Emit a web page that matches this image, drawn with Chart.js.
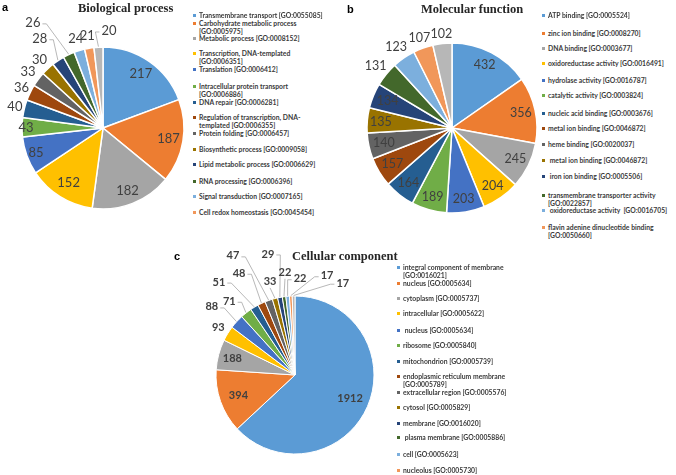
<!DOCTYPE html>
<html><head><meta charset="utf-8">
<script src="https://cdn.jsdelivr.net/npm/chart.js@4.4.0/dist/chart.umd.min.js"></script>
<style>
html,body{margin:0;padding:0;background:#fff;}
body{width:676px;height:475px;position:relative;overflow:hidden;font-family:Lato,sans-serif;}
canvas{position:absolute;}
.t{position:absolute;font-family:"Liberation Serif","Times New Roman",serif;font-weight:bold;font-size:12.5px;color:#262626;white-space:nowrap;line-height:14px;}
.p{position:absolute;font-family:"Liberation Sans",Arial,sans-serif;font-weight:bold;font-size:11px;color:#000;line-height:12px;}
.lg{position:absolute;font-family:Lato,sans-serif;line-height:8px;color:#3a3a3a;font-weight:700;white-space:pre-wrap;z-index:2;}
.lg i{position:absolute;width:2.8px;height:2.8px;left:-6px;top:2.8px;}
</style></head><body>
<canvas id="ca" width="190" height="240" style="left:0;top:0"></canvas>
<canvas id="cb" width="200" height="240" style="left:340px;top:0"></canvas>
<canvas id="cc" width="230" height="235" style="left:170px;top:240px"></canvas>
<div class="p" style="left:2px;top:1px">a</div>
<div class="p" style="left:347px;top:3px">b</div>
<div class="p" style="left:174px;top:250px">c</div>
<div class="t" style="left:78px;top:1px">Biological process</div>
<div class="t" style="left:421px;top:2px">Molecular function</div>
<div class="t" style="left:292px;top:249px">Cellular component</div>
<script>
// ---------- data ----------
const bioLabels = [
  "Transmembrane transport [GO:0055085]",
  "Carbohydrate metabolic process [GO:0005975]",
  "Metabolic process [GO:0008152]",
  "Transcription, DNA-templated [GO:0006351]",
  "Translation [GO:0006412]",
  "Intracellular protein transport [GO:0006886]",
  "DNA repair [GO:0006281]",
  "Regulation of transcription, DNA-templated [GO:0006355]",
  "Protein folding [GO:0006457]",
  "Biosynthetic process [GO:0009058]",
  "Lipid metabolic process [GO:0006629]",
  "RNA processing [GO:0006396]",
  "Signal transduction [GO:0007165]",
  "Cell redox homeostasis [GO:0045454]"
];
const bioValues = [217,187,182,152,85,43,40,36,33,30,28,26,24,21,20];

const molLabels = [
  "ATP binding [GO:0005524]",
  "zinc ion binding [GO:0008270]",
  "DNA binding [GO:0003677]",
  "oxidoreductase activity [GO:0016491]",
  "hydrolase activity [GO:0016787]",
  "catalytic activity [GO:0003824]",
  "nucleic acid binding [GO:0003676]",
  "metal ion binding [GO:0046872]",
  "heme binding [GO:0020037]",
  " metal ion binding [GO:0046872]",
  " iron ion binding [GO:0005506]",
  "transmembrane transporter activity [GO:0022857]",
  " oxidoreductase activity  [GO:0016705]",
  "flavin adenine dinucleotide binding [GO:0050660]"
];
const molValues = [432,356,245,204,203,189,164,157,140,135,134,131,123,107,102];

const cellLabels = [
  "integral component of membrane [GO:0016021]",
  "nucleus [GO:0005634]",
  "cytoplasm [GO:0005737]",
  "intracellular [GO:0005622]",
  " nucleus [GO:0005634]",
  "ribosome [GO:0005840]",
  "mitochondrion [GO:0005739]",
  "endoplasmic reticulum membrane [GO:0005789]",
  "extracellular region [GO:0005576]",
  "cytosol [GO:0005829]",
  "membrane [GO:0016020]",
  " plasma membrane [GO:0005886]",
  "cell [GO:0005623]",
  "nucleolus [GO:0005730]"
];
const cellValues = [1912,394,188,93,88,71,51,48,47,33,29,22,22,17,17];

const palette = ["#5B9BD5","#ED7D31","#A5A5A5","#FFC000","#4472C4","#70AD47","#255E91","#9E480E",
                 "#636363","#997300","#264478","#43682B","#7CAFDD","#F1975A","#B7B7B7"];

// ---------- layout ----------
// label placement: number = radial factor at slice middle; [deg from top, factor] = moved label with leader line
const placeA = [0.82,0.82,0.83,0.8,0.88,0.95,1.12,1.12,1.16,1.15,[324.7,1.35],[326.3,1.56],1.15,1.15,[3.5,1.2]];
const placeB = [0.83,0.83,0.83,0.83,0.85,0.84,0.83,0.82,0.82,0.84,0.82,1.16,1.16,1.13,1.11];
const placeC = [0.76,0.76,0.82,1.14,[309.3,1.36],[318.3,1.25],[320.7,1.52],[331.2,1.47],[332.5,1.70],
                [345,1.22],[347.4,1.57],[354.4,1.30],[3,1.22],[17.9,1.32],[27.5,1.31]];
const legendYA = [15,23,38,53,69,86,102,117,133,149,164,181,196,212];
const legendYB = [15,33,48,63,80,95,113,128,144,160,176,195,210,227];
const legendYC = [267,283,298,313,330,345,361,376,392,407,423,437,454,470];

// legend font size chosen so the first legend entry spans ~124px as in the reference
const mctx = document.createElement('canvas').getContext('2d');
mctx.font = '700 10px Lato';
const legendFontPx = 10 * 124 / mctx.measureText(bioLabels[0]).width;

function labelPlugin(place, font) {
  return {
    id: 'vals',
    afterDraw(chart) {
      const ctx = chart.ctx;
      const meta = chart.getDatasetMeta(0);
      const vals = chart.data.datasets[0].data;
      ctx.save();
      ctx.font = font;
      ctx.fillStyle = '#404040';
      ctx.textAlign = 'center';
      ctx.textBaseline = 'middle';
      meta.data.forEach((arc, i) => {
        const p = arc.getProps(['x','y','startAngle','endAngle','outerRadius'], true);
        const mid = (p.startAngle + p.endAngle) / 2;
        const spec = place[i];
        const txt = String(vals[i]);
        let lx, ly;
        if (Array.isArray(spec)) {
          const a = spec[0] * Math.PI / 180 - Math.PI / 2;
          lx = p.x + Math.cos(a) * p.outerRadius * spec[1];
          ly = p.y + Math.sin(a) * p.outerRadius * spec[1];
          const ex = p.x + Math.cos(mid) * (p.outerRadius + 0.5);
          const ey = p.y + Math.sin(mid) * (p.outerRadius + 0.5);
          const w = ctx.measureText(txt).width;
          ctx.strokeStyle = '#A6A6A6';
          ctx.lineWidth = 0.8;
          ctx.beginPath();
          if (Math.abs(ex - lx) < w / 2 + 2) {
            ctx.moveTo(lx, ly + 6);
            ctx.lineTo(ex, ey);
          } else {
            const s = ex > lx ? 1 : -1;
            const sx = lx + s * (w / 2 + 2);
            ctx.moveTo(sx, ly + 1);
            ctx.lineTo(sx + s * 4, ly + 1);
            ctx.lineTo(ex, ey);
          }
          ctx.stroke();
        } else {
          lx = p.x + Math.cos(mid) * p.outerRadius * spec;
          ly = p.y + Math.sin(mid) * p.outerRadius * spec;
        }
        ctx.fillText(txt, lx, ly);
      });
      ctx.restore();
    }
  };
}

function makePie(id, labels, values, place, radius, pad, bw, font) {
  return new Chart(document.getElementById(id), {
    type: 'pie',
    data: { labels: labels, datasets: [{ data: values, backgroundColor: palette, borderColor: '#ffffff', borderWidth: bw, hoverOffset: 0 }] },
    options: {
      responsive: false, animation: false, events: [],
      radius: radius,
      layout: { padding: pad },
      plugins: { legend: { display: false }, tooltip: { enabled: false } }
    },
    plugins: [labelPlugin(place, font)]
  });
}

function makeLegend(labels, ys, x, width) {
  labels.forEach((lab, i) => {
    const d = document.createElement('div');
    d.className = 'lg';
    d.style.fontSize = legendFontPx + 'px';
    d.style.left = x + 'px';
    d.style.top = (ys[i] - 4) + 'px';
    d.style.width = width + 'px';
    const sq = document.createElement('i');
    sq.style.background = palette[i];
    d.appendChild(sq);
    d.appendChild(document.createTextNode(lab));
    document.body.appendChild(d);
  });
}

makePie('ca', bioLabels, bioValues, placeA, 81, {left:22, top:47, right:6, bottom:31}, 1.5, '13px Lato');
makePie('cb', molLabels, molValues, placeB, 85, {left:27, top:43, right:3, bottom:27}, 1.5, '12.5px Lato');
makePie('cc', cellLabels, cellValues, placeC, 79, {left:46, top:56, right:26, bottom:21}, 1, 'bold 11px Lato');

makeLegend(bioLabels, legendYA, 199, 129);
makeLegend(molLabels, legendYB, 548, 127);
makeLegend(cellLabels, legendYC, 403, 107);
</script>
</body></html>
